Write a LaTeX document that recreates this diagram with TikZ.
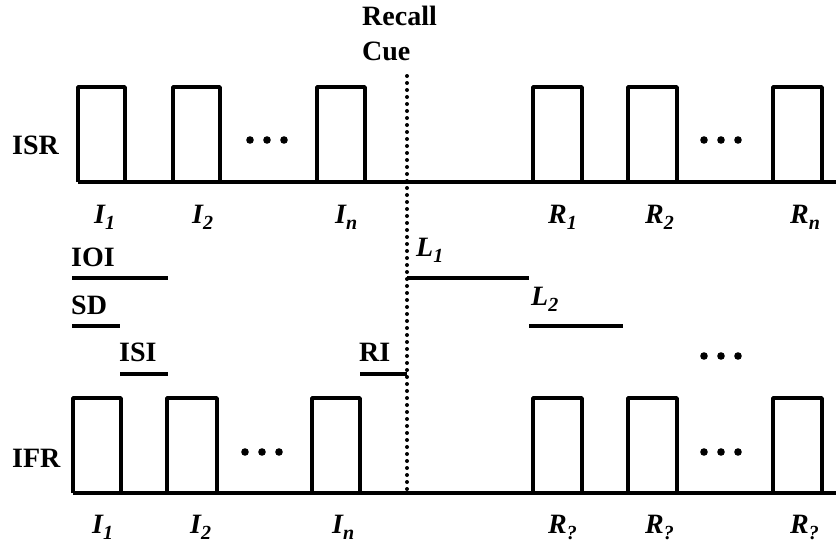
\documentclass[tikz,border=0pt]{standalone}
\usepackage{fontspec}
\setmainfont{Liberation Serif}
\newcommand\sbx[1]{\raisebox{-6pt}{\fontsize{20}{20}\selectfont #1}}
\begin{document}
\begin{tikzpicture}[x=1pt,y=-1pt,
  wave/.style={line width=3.6pt, line join=round},
  base/.style={line width=3.2pt},
  seg/.style={line width=4pt},
  cueline/.style={line width=4pt, line cap=round, dash pattern=on 0pt off 7pt},
  lbl/.style={font=\fontsize{28}{35}\selectfont\bfseries, inner sep=0pt},
  sub/.style={font=\fontsize{28}{30}\selectfont\bfseries\itshape, inner sep=0pt},
  dotc/.style={fill=black}]
\useasboundingbox (0,0) rectangle (836,544);
% ---------- top row (ISR)
\draw[base] (78,182) -- (836,182);
\foreach \a/\b in {78/125,173/220,317/365,533/582,628/677,773/822}
  \draw[wave] (\a,182) -- (\a,87) -- (\b,87) -- (\b,182);
\foreach \x in {250,267,284,704,721,738} \fill[dotc] (\x,140) circle (3.8);
% ---------- bottom row (IFR)
\draw[base] (73,493) -- (836,493);
\foreach \a/\b in {73/121,167/217,312/360,533/582,628/677,773/822}
  \draw[wave] (\a,493) -- (\a,398) -- (\b,398) -- (\b,493);
\foreach \x in {245,262,279,704,721,738} \fill[dotc] (\x,452) circle (3.8);
\foreach \x in {704,721,738} \fill[dotc] (\x,356) circle (3.8);
% ---------- recall cue
\coordinate (cuetop) at (407,76);
\coordinate (cuebot) at (407,491);
\draw[cueline] (cuetop) -- (cuebot);
\node[lbl, anchor=north west, align=left] (cue) at (362,6) {Recall\\Cue};
% ---------- row labels
\node[lbl, anchor=west] (isr) at (12,145) {ISR};
\node[lbl, anchor=west] (ifr) at (12,458) {IFR};
% ---------- item labels
\node[sub, anchor=base west] (i1) at (94,223) {I\sbx{1}};
\node[sub, anchor=base west] (i2) at (192,223) {I\sbx{2}};
\node[sub, anchor=base west] (in) at (335,223) {I\sbx{n}};
\node[sub, anchor=base west] (r1) at (548,223) {R\sbx{1}};
\node[sub, anchor=base west] (r2) at (645,223) {R\sbx{2}};
\node[sub, anchor=base west] (rn) at (790,223) {R\sbx{n}};
\node[sub, anchor=base west] (bi1) at (92,533) {I\sbx{1}};
\node[sub, anchor=base west] (bi2) at (190,533) {I\sbx{2}};
\node[sub, anchor=base west] (bin) at (332,533) {I\sbx{n}};
\node[sub, anchor=base west] (br1) at (548,533) {R\sbx{?}};
\node[sub, anchor=base west] (br2) at (645,533) {R\sbx{?}};
\node[sub, anchor=base west] (brn) at (790,533) {R\sbx{?}};
% ---------- interval labels and bars
\node[lbl, anchor=base west] (ioi) at (71,266) {IOI};
\draw[seg] (72,278) -- (168,278);
\node[lbl, anchor=base west] (sd) at (71,314) {SD};
\draw[seg] (72,326) -- (120,326);
\node[lbl, anchor=base west] (isi) at (119,361) {ISI};
\draw[seg] (120,374) -- (168,374);
\node[lbl, anchor=base west] (ri) at (359,361) {RI};
\draw[seg] (360,374) -- (407,374);
\node[sub, anchor=base west] (l1) at (416,256) {L\sbx{1}};
\draw[seg] (407,278) -- (529,278);
\node[sub, anchor=base west] (l2) at (531,305) {L\sbx{2}};
\draw[seg] (529,326) -- (623,326);
\end{tikzpicture}
\end{document}
